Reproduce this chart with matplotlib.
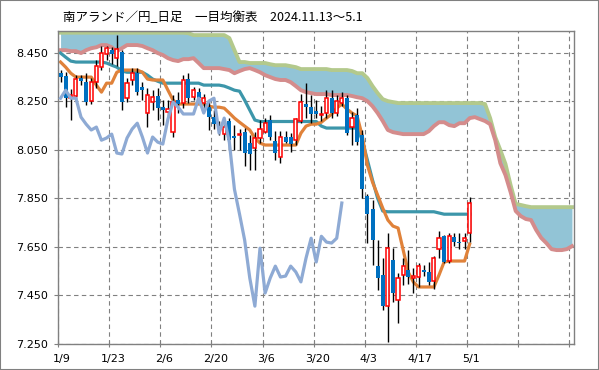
import numpy as np
import matplotlib.pyplot as plt
from matplotlib.patches import Rectangle
from matplotlib.ticker import FormatStrFormatter
from matplotlib.transforms import ScaledTranslation

# daily candles 1/9 .. 5/1
opens = [8.368, 8.354, 8.263, 8.272, 8.346, 8.329, 8.251, 8.329, 8.391, 8.445,
         8.461, 8.428, 8.453, 8.263, 8.338, 8.367, 8.309, 8.201, 8.247, 8.272,
         8.226, 8.206, 8.123, 8.255, 8.243, 8.342, 8.268, 8.288, 8.243, 8.226,
         8.185, 8.150, 8.115, 8.169, 8.107, 8.111, 8.123, 8.078, 8.057, 8.099,
         8.123, 8.173, 8.086, 8.020, 8.103, 8.103, 8.090, 8.169, 8.239, 8.226,
         8.210, 8.194, 8.202, 8.263, 8.202, 8.243, 8.263, 8.144, 8.193, 8.111,
         7.859, 7.806, 7.571, 7.534, 7.406, 7.596, 7.431, 7.534, 7.555, 7.522,
         7.526, 7.555, 7.547, 7.510, 7.641, 7.694, 7.592, 7.690, 7.670, 7.674,
         7.708]
highs = [8.379, 8.370, 8.300, 8.360, 8.358, 8.366, 8.346, 8.420, 8.480, 8.480,
         8.473, 8.523, 8.460, 8.346, 8.387, 8.387, 8.329, 8.305, 8.296, 8.305,
         8.255, 8.255, 8.276, 8.290, 8.358, 8.366, 8.310, 8.305, 8.280, 8.255,
         8.214, 8.170, 8.173, 8.181, 8.152, 8.136, 8.140, 8.111, 8.123, 8.173,
         8.181, 8.193, 8.128, 8.128, 8.128, 8.120, 8.181, 8.280, 8.325, 8.276,
         8.255, 8.230, 8.296, 8.296, 8.276, 8.288, 8.276, 8.206, 8.222, 8.132,
         7.867, 7.843, 7.680, 7.604, 7.707, 7.645, 7.543, 7.604, 7.637, 7.563,
         7.584, 7.575, 7.588, 7.612, 7.715, 7.699, 7.707, 7.707, 7.707, 7.707,
         7.855]
lows = [8.331, 8.226, 8.173, 8.260, 8.317, 8.235, 8.239, 8.305, 8.380, 8.420,
        8.404, 8.395, 8.214, 8.247, 8.317, 8.276, 8.255, 8.144, 8.214, 8.173,
        8.152, 8.190, 8.103, 8.200, 8.222, 8.243, 8.255, 8.243, 8.214, 8.132,
        8.136, 8.110, 8.090, 8.049, 8.049, 8.049, 7.983, 7.967, 7.967, 8.078,
        8.119, 8.090, 8.008, 7.995, 8.078, 8.040, 8.070, 8.160, 8.181, 8.160,
        8.181, 8.170, 8.181, 8.181, 8.190, 8.230, 8.110, 8.070, 8.070, 7.851,
        7.665, 7.575, 7.473, 7.390, 7.258, 7.423, 7.337, 7.493, 7.497, 7.460,
        7.485, 7.530, 7.493, 7.477, 7.604, 7.584, 7.584, 7.653, 7.641, 7.641,
        7.670]
closes = [8.352, 8.263, 8.276, 8.342, 8.334, 8.247, 8.329, 8.395, 8.450, 8.469,
          8.445, 8.465, 8.247, 8.325, 8.367, 8.288, 8.296, 8.276, 8.268, 8.222,
          8.214, 8.218, 8.247, 8.239, 8.338, 8.263, 8.296, 8.263, 8.263, 8.185,
          8.156, 8.132, 8.144, 8.090, 8.099, 8.115, 8.037, 8.033, 8.099, 8.136,
          8.160, 8.103, 8.037, 8.103, 8.082, 8.074, 8.177, 8.247, 8.226, 8.198,
          8.198, 8.198, 8.263, 8.202, 8.251, 8.263, 8.119, 8.181, 8.082, 7.888,
          7.785, 7.678, 7.522, 7.406, 7.645, 7.460, 7.522, 7.571, 7.526, 7.530,
          7.571, 7.547, 7.506, 7.604, 7.686, 7.588, 7.694, 7.670, 7.666, 7.686,
          7.831]

# conversion line (tenkan) and base line (kijun)
tenkan = [8.412, 8.391, 8.366, 8.350, 8.350, 8.350, 8.350, 8.317, 8.288, 8.325,
          8.325, 8.370, 8.379, 8.379, 8.379, 8.379, 8.370, 8.342, 8.338, 8.338,
          8.338, 8.296, 8.255, 8.239, 8.239, 8.239, 8.239, 8.239, 8.239, 8.230,
          8.226, 8.226, 8.222, 8.202, 8.181, 8.164, 8.148, 8.132, 8.099, 8.078,
          8.070, 8.070, 8.070, 8.070, 8.070, 8.070, 8.070, 8.119, 8.148, 8.156,
          8.156, 8.164, 8.181, 8.197, 8.222, 8.239, 8.218, 8.202, 8.189, 8.107,
          7.987, 7.917, 7.864, 7.810, 7.761, 7.736, 7.728, 7.637, 7.546, 7.505,
          7.485, 7.485, 7.485, 7.485, 7.534, 7.588, 7.592, 7.592, 7.592, 7.592,
          7.662]
kijun = [8.449, 8.432, 8.416, 8.412, 8.412, 8.412, 8.412, 8.412, 8.412, 8.408,
         8.399, 8.391, 8.375, 8.370, 8.370, 8.370, 8.370, 8.358, 8.342, 8.333,
         8.325, 8.325, 8.325, 8.325, 8.325, 8.325, 8.325, 8.325, 8.317, 8.317,
         8.317, 8.317, 8.313, 8.305, 8.296, 8.292, 8.255, 8.214, 8.173, 8.167,
         8.167, 8.167, 8.167, 8.167, 8.167, 8.167, 8.167, 8.167, 8.167, 8.167,
         8.167, 8.148, 8.140, 8.140, 8.140, 8.140, 8.140, 8.140, 8.140, 8.090,
         8.008, 7.926, 7.851, 7.798, 7.795, 7.795, 7.795, 7.795, 7.795, 7.795,
         7.795, 7.795, 7.795, 7.795, 7.790, 7.785, 7.785, 7.785, 7.785, 7.785,
         7.785]

# leading spans (cloud), drawn 101 bars wide
span_up = [8.533, 8.533, 8.533, 8.533, 8.533, 8.533, 8.533, 8.533, 8.533, 8.533,
           8.533, 8.533, 8.533, 8.533, 8.533, 8.533, 8.533, 8.533, 8.533, 8.533,
           8.533, 8.533, 8.533, 8.533, 8.533, 8.531, 8.523, 8.523, 8.523, 8.523,
           8.523, 8.523, 8.523, 8.511, 8.461, 8.412, 8.412, 8.408, 8.408, 8.408,
           8.408, 8.403, 8.399, 8.399, 8.399, 8.395, 8.391, 8.383, 8.383, 8.383,
           8.383, 8.383, 8.383, 8.379, 8.379, 8.379, 8.379, 8.375, 8.366, 8.366,
           8.346, 8.313, 8.284, 8.259, 8.251, 8.247, 8.243, 8.243, 8.243, 8.243,
           8.243, 8.243, 8.243, 8.243, 8.243, 8.243, 8.243, 8.243, 8.243, 8.243,
           8.243, 8.243, 8.243, 8.239, 8.181, 8.103, 8.049, 7.992, 7.905, 7.827,
           7.823, 7.818, 7.814, 7.814, 7.814, 7.814, 7.814, 7.814, 7.814, 7.814,
           7.814]
span_dn = [8.461, 8.461, 8.457, 8.457, 8.449, 8.461, 8.469, 8.473, 8.482, 8.482,
           8.473, 8.457, 8.469, 8.482, 8.482, 8.482, 8.478, 8.469, 8.461, 8.449,
           8.441, 8.428, 8.420, 8.416, 8.424, 8.424, 8.428, 8.408, 8.387, 8.387,
           8.387, 8.387, 8.383, 8.379, 8.366, 8.375, 8.383, 8.387, 8.379, 8.370,
           8.358, 8.350, 8.342, 8.338, 8.338, 8.329, 8.313, 8.296, 8.288, 8.284,
           8.280, 8.280, 8.280, 8.276, 8.276, 8.276, 8.276, 8.272, 8.267, 8.263,
           8.251, 8.230, 8.202, 8.169, 8.132, 8.123, 8.119, 8.115, 8.115, 8.115,
           8.115, 8.115, 8.127, 8.148, 8.164, 8.164, 8.152, 8.148, 8.160, 8.160,
           8.181, 8.185, 8.177, 8.169, 8.156, 8.090, 7.995, 7.946, 7.876, 7.798,
           7.777, 7.765, 7.761, 7.720, 7.687, 7.666, 7.641, 7.637, 7.637, 7.641,
           7.653]

date_labels = ['1/9', '1/23', '2/6', '2/20', '3/6', '3/20', '4/3', '4/17', '5/1', '', '']
lag = 25  # lagging span shift

fig = plt.figure(figsize=(5.99, 3.70), dpi=100)
ax = fig.add_axes([58/599, 26/370, 516/599, 313/370])

n = len(closes)
xc = np.arange(n) + 0.5
xs = np.arange(len(span_up)) + 0.5

# cloud
ax.fill_between(xs, span_up, span_dn, color='#92c4d6', lw=0, zorder=1)
ax.plot(xs, span_up, color='#b3c98c', lw=2.8, zorder=2, solid_joinstyle='round')
ax.plot(xs, span_dn, color='#d48c8c', lw=2.8, zorder=2, solid_joinstyle='round')

# kijun / tenkan
ax.plot(xc, kijun, color='#3c96aa', lw=2.3, zorder=2)
ax.plot(xc, tenkan, color='#e0823a', lw=2.3, zorder=2)

# candles
o = np.array(opens); c = np.array(closes)
up = c >= o
ax.vlines(xc, lows, highs, color='black', lw=1, zorder=3)
body = np.maximum(np.abs(c - o), 0.004)
ax.bar(xc[up], body[up], bottom=np.minimum(o, c)[up], width=0.62,
       facecolor='white', edgecolor='#ff0000', lw=1.1, zorder=4)
ax.bar(xc[~up], body[~up], bottom=np.minimum(o, c)[~up], width=0.78,
       color='#0070c0', lw=0, zorder=4)

# lagging span
ax.plot(xc[:n - lag], closes[lag:], color='#8eaad4', lw=2.3, zorder=5)

ax.set_xlim(0, 100.9)
ax.set_ylim(7.25, 8.54)
ax.set_yticks(np.arange(7.25, 8.46, 0.2))
ax.yaxis.set_major_formatter(FormatStrFormatter('%.3f'))
ax.set_xticks(np.arange(0, 101, 10))
ax.set_xticklabels(date_labels)
ax.tick_params(axis='x', direction='inout', length=5, color='#808080', labelsize=8, pad=5)
ax.tick_params(axis='y', direction='out', length=3, color='#808080', labelsize=8, pad=4)
shift = ScaledTranslation(4/100, 0, fig.dpi_scale_trans)
for lbl in ax.get_xticklabels():
    lbl.set_transform(lbl.get_transform() + shift)
ax.grid(True, color='#808080', lw=0.8, ls=(0, (4, 3)))
ax.set_axisbelow(True)
for s in ax.spines.values():
    s.set_color('#808080')
    s.set_linewidth(1)

fig.text(63/599, 1 - 18/370, '南アランド／円_日足　一目均衡表　2024.11.13～5.1',
         family=['Noto Sans CJK JP', 'DejaVu Sans'], fontsize=9, va='center', ha='left')
fig.patches.append(Rectangle((0, 0), 1, 1, transform=fig.transFigure, fill=False,
                             edgecolor='#808080', lw=1.5))

fig.savefig('out.png', dpi=100)
